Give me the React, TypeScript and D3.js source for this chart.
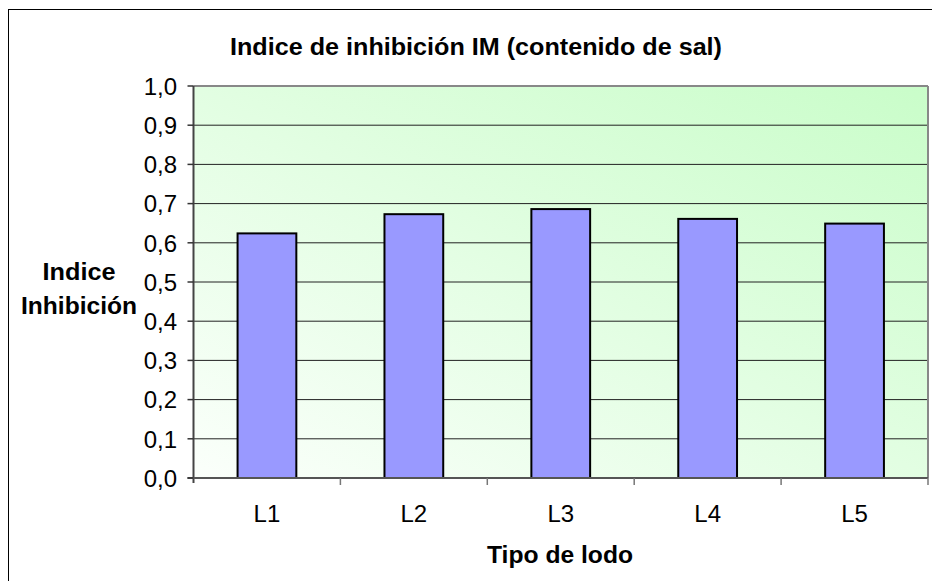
import React from "react";
import * as d3 from "d3";

const categories = ["L1", "L2", "L3", "L4", "L5"];
const values = [0.624, 0.673, 0.686, 0.661, 0.649];
const yTicks = [0, 0.1, 0.2, 0.3, 0.4, 0.5, 0.6, 0.7, 0.8, 0.9, 1.0];
const title = "Indice de inhibición IM (contenido de sal)";
const xTitle = "Tipo de lodo";
const yTitleLines = ["Indice", "Inhibición"];

export default function App() {
  const W = 932, H = 581;
  const left = 193.5, right = 928, top = 86, bottom = 478;
  const x = d3.scaleBand().domain(categories).range([left, right]).paddingInner(0.6).paddingOuter(0.3);
  const xb = d3.scaleBand().domain(categories).range([left, right]);
  const y = d3.scaleLinear().domain([0, 1]).range([bottom, top]);
  const fmt = (v: number) => d3.format(".1f")(v).replace(".", ",");
  const font = "'Liberation Sans', Arial, sans-serif";
  const yTitleW = [73, 116];
  return (
    <svg width={W} height={H} style={{ position: "absolute", left: 0, top: 0, background: "#fff" }} fontFamily={font}>
      <defs>
        <linearGradient id="bg" x1="0" y1="1" x2="1" y2="0">
          <stop offset="0" stopColor="#fbfffb" />
          <stop offset="1" stopColor="#c9fdc9" />
        </linearGradient>
      </defs>
      <rect x={8.5} y={9.5} width={W + 20} height={H + 20} fill="#fff" stroke="#000" strokeWidth={1} />
      <text x={230} y={54.5} fontWeight="bold" fontSize={23} textLength={492} lengthAdjust="spacingAndGlyphs">{title}</text>
      <rect x={left} y={top} width={right - left} height={bottom - top} fill="url(#bg)" />
      {yTicks.slice(1, -1).map((t) => (
        <line key={t} x1={left} x2={right} y1={y(t)} y2={y(t)} stroke="#222" strokeWidth={1} />
      ))}
      <line x1={left} x2={right} y1={top} y2={top} stroke="#888" strokeWidth={2} />
      <line x1={right} x2={right} y1={top} y2={bottom} stroke="#888" strokeWidth={2} />
      {categories.map((c, i) => (
        <rect key={c} x={x(c)!} y={y(values[i])} width={x.bandwidth()} height={bottom - y(values[i])} fill="#9999ff" stroke="#000" strokeWidth={2} />
      ))}
      <line x1={left} x2={left} y1={top} y2={bottom + 5} stroke="#444" strokeWidth={2} />
      <line x1={left - 6} x2={right} y1={bottom} y2={bottom} stroke="#555" strokeWidth={2} />
      {yTicks.map((t) => (
        <g key={t}>
          <line x1={left - 6} x2={left} y1={y(t)} y2={y(t)} stroke="#333" strokeWidth={1.5} />
          <text x={177} y={y(t) + 8.8} textAnchor="end" fontSize={24}>{fmt(t)}</text>
        </g>
      ))}
      {categories.map((c) => (
        <line key={"t" + c} x1={xb(c)! + xb.bandwidth()} x2={xb(c)! + xb.bandwidth()} y1={bottom} y2={bottom + 7} stroke="#777" strokeWidth={1.5} />
      ))}
      {categories.map((c) => (
        <text key={"l" + c} x={x(c)! + x.bandwidth() / 2} y={522} textAnchor="middle" fontSize={24}>{c}</text>
      ))}
      <text x={487} y={563} fontWeight="bold" fontSize={23} textLength={146} lengthAdjust="spacingAndGlyphs">{xTitle}</text>
      {yTitleLines.map((s, i) => (
        <text key={s} x={79 - yTitleW[i] / 2} y={279.5 + i * 34.5} fontWeight="bold" fontSize={23} textLength={yTitleW[i]} lengthAdjust="spacingAndGlyphs">{s}</text>
      ))}
    </svg>
  );
}
